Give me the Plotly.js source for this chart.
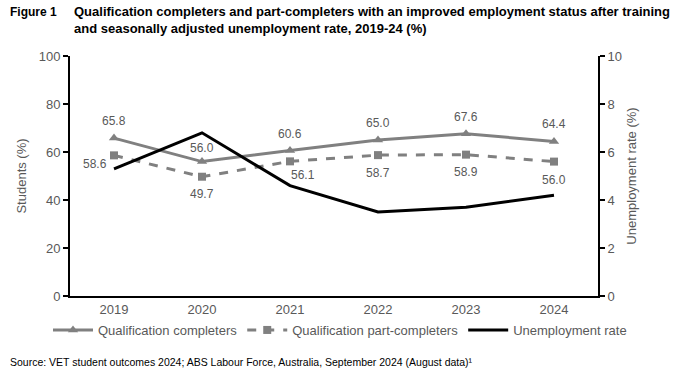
<!DOCTYPE html>
<html>
<head>
<meta charset="utf-8">
<script src="https://cdn.plot.ly/plotly-3.0.1.min.js"></script>
<style>html,body{margin:0;padding:0;background:#fff;}#chart{width:673px;height:380px;}</style>
</head>
<body>
<div id="chart"></div>
<script>
var years = ['2019', '2020', '2021', '2022', '2023', '2024'];
var completers = [65.8, 56.0, 60.6, 65.0, 67.6, 64.4];
var partCompleters = [58.6, 49.7, 56.1, 58.7, 58.9, 56.0];
var unemployment = [5.3, 6.8, 4.6, 3.5, 3.7, 4.2];

var FONT = 'Liberation Sans, Arial, sans-serif';
var GREY = '#808080';
var TXT = '#595959';

// label placement (pixel offsets from each point)
var completerShift = [[0, 17], [0, 14], [0, 17], [0, 17], [0, 17], [0, 17]];
var partShift = [[-19, -9], [0, -17], [13, -14], [0, -18], [0, -17], [0, -18]];

var traces = [
  {
    x: years, y: completers, name: 'Qualification completers',
    type: 'scatter', mode: 'lines+markers',
    line: {color: GREY, width: 3},
    marker: {symbol: 'triangle-up', size: 9, color: GREY},
    cliponaxis: false
  },
  {
    x: years, y: partCompleters, name: 'Qualification part-completers',
    type: 'scatter', mode: 'lines+markers',
    line: {color: GREY, width: 3, dash: 'dash'},
    marker: {symbol: 'square', size: 8, color: GREY},
    cliponaxis: false
  },
  {
    x: years, y: unemployment, name: 'Unemployment rate', yaxis: 'y2',
    type: 'scatter', mode: 'lines',
    line: {color: '#000000', width: 3}
  }
];

var annotations = [];
years.forEach(function (yr, i) {
  annotations.push({
    xref: 'x', yref: 'y', x: i, y: completers[i], text: completers[i].toFixed(1),
    showarrow: false, xanchor: 'center', yanchor: 'middle',
    xshift: completerShift[i][0], yshift: completerShift[i][1],
    font: {family: FONT, size: 12, color: TXT}
  });
  annotations.push({
    xref: 'x', yref: 'y', x: i, y: partCompleters[i], text: partCompleters[i].toFixed(1),
    showarrow: false, xanchor: 'center', yanchor: 'middle',
    xshift: partShift[i][0], yshift: partShift[i][1],
    font: {family: FONT, size: 12, color: TXT}
  });
});

annotations.push(
  {
    xref: 'paper', yref: 'paper', x: (8 - 70) / 528, y: 1 + (56 - 12) / 240,
    xanchor: 'left', yanchor: 'middle', showarrow: false, align: 'left',
    text: '<b>Figure 1</b>', font: {family: FONT, size: 12, color: '#000000'}
  },
  {
    xref: 'paper', yref: 'paper', x: (72 - 70) / 528, y: 1 + (56 - 20) / 240,
    xanchor: 'left', yanchor: 'middle', showarrow: false, align: 'left',
    text: '<b>Qualification completers and part-completers with an improved employment status after training<br>and seasonally adjusted unemployment rate, 2019-24 (%)</b>',
    font: {family: FONT, size: 13, color: '#000000'}
  },
  {
    xref: 'paper', yref: 'paper', x: (8 - 70) / 528, y: -(362 - 296) / 240,
    xanchor: 'left', yanchor: 'middle', showarrow: false, align: 'left',
    text: 'Source: VET student outcomes 2024; ABS Labour Force, Australia, September 2024 (August data)¹',
    font: {family: FONT, size: 10.5, color: '#000000'}
  }
);

var layout = {
  width: 673, height: 380,
  margin: {l: 70, r: 75, t: 56, b: 84},
  paper_bgcolor: '#ffffff', plot_bgcolor: '#ffffff',
  font: {family: FONT, size: 12, color: TXT},
  showlegend: true,
  legend: {
    orientation: 'h', xref: 'paper', yref: 'paper',
    x: (48 - 70) / 528, xanchor: 'left', y: -(330 - 296) / 240, yanchor: 'middle',
    font: {family: FONT, size: 13, color: TXT},
    itemwidth: 40, tracegroupgap: 0, bgcolor: 'rgba(0,0,0,0)'
  },
  xaxis: {
    type: 'category', range: [-0.5, 5.5],
    showline: true, linecolor: '#000000', linewidth: 2,
    ticks: '', showgrid: false, zeroline: false,
    tickfont: {family: FONT, size: 13, color: TXT}
  },
  yaxis: {
    range: [0, 100], dtick: 20,
    showline: true, linecolor: '#000000', linewidth: 2,
    ticks: 'outside', ticklen: 5, tickwidth: 2, tickcolor: '#000000',
    showgrid: false, zeroline: false, automargin: false,
    tickfont: {family: FONT, size: 13, color: TXT},
    title: {text: 'Students (%)', font: {family: FONT, size: 13, color: TXT}, standoff: 9}
  },
  yaxis2: {
    range: [0, 10], dtick: 2, overlaying: 'y', side: 'right',
    showline: true, linecolor: '#000000', linewidth: 2,
    ticks: 'outside', ticklen: 5, tickwidth: 2, tickcolor: '#000000',
    showgrid: false, zeroline: false, automargin: false,
    tickfont: {family: FONT, size: 13, color: TXT},
    title: {text: 'Unemployment rate (%)', font: {family: FONT, size: 13, color: TXT}, standoff: 6}
  },
  annotations: annotations
};

Plotly.newPlot('chart', traces, layout, {displayModeBar: false, staticPlot: true});
</script>
</body>
</html>
